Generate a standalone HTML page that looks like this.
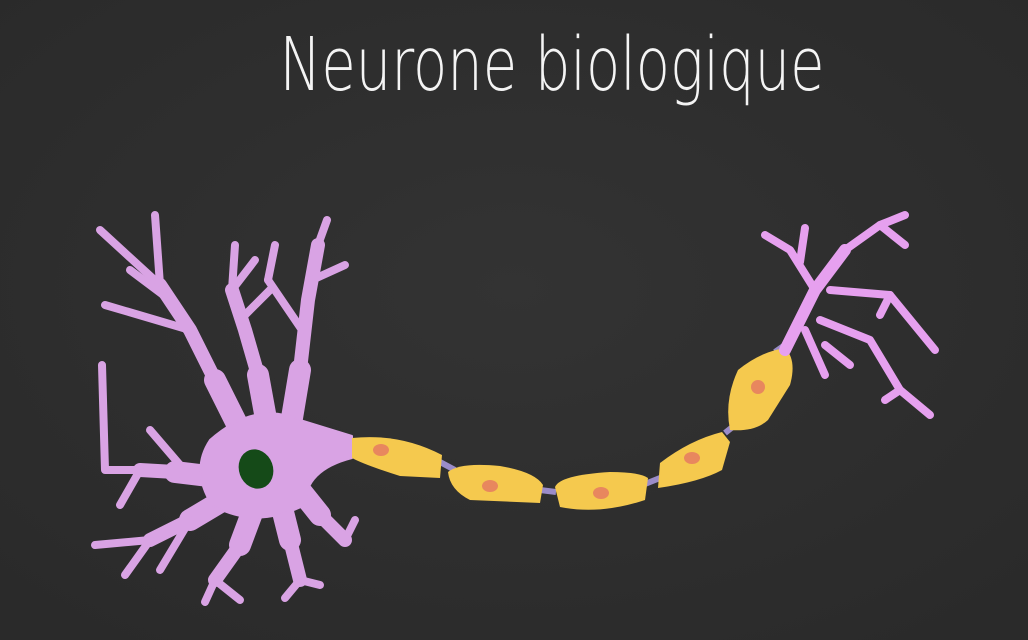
<!DOCTYPE html>
<html><head><meta charset="utf-8"><style>
html,body{margin:0;padding:0;background:#2f2f2f;}
svg{display:block}
</style></head><body>
<svg width="1028" height="640" viewBox="0 0 1028 640">
<defs><radialGradient id="bg" cx="50%" cy="45%" r="70%"><stop offset="0" stop-color="#333"/><stop offset="1" stop-color="#2a2a2a"/></radialGradient></defs>
<rect width="1028" height="640" fill="url(#bg)"/>
<text x="552" y="90" text-anchor="middle" font-family="'DejaVu Sans','Liberation Sans',sans-serif" font-size="74" fill="#f4f4f4" font-weight="200" textLength="545" lengthAdjust="spacingAndGlyphs">Neurone biologique</text>

<g stroke="#d9a3e4" fill="none" stroke-linecap="round" stroke-linejoin="round">
 <g stroke-width="22">
  <path d="M245 440 L215 380"/>
  <path d="M268 430 L258 375"/>
  <path d="M290 430 L300 370"/>
  <path d="M225 478 L175 472"/>
  <path d="M232 495 L190 520"/>
  <path d="M255 505 L240 545"/>
  <path d="M280 500 L290 540"/>
  <path d="M300 490 L320 515"/>
 </g>
 <g stroke-width="14">
  <path d="M215 380 L190 330 L160 285"/>
  <path d="M258 375 L245 330 L232 290"/>
  <path d="M300 370 L308 300 L318 245"/>
  <path d="M175 472 L140 470"/>
  <path d="M190 520 L150 540"/>
  <path d="M240 545 L215 580"/>
  <path d="M290 540 L300 580"/>
  <path d="M320 515 L345 540"/>
 </g>
 <g stroke-width="8">
  <path d="M160 285 L100 230"/><path d="M160 285 L155 215"/><path d="M190 330 L105 305"/><path d="M170 300 L130 270"/>
  <path d="M232 290 L235 245"/><path d="M232 290 L255 260"/><path d="M240 320 L270 290"/>
  <path d="M318 245 L327 220"/><path d="M312 280 L345 265"/><path d="M302 330 L268 280"/><path d="M268 280 L275 245"/>
  <path d="M140 470 L105 470 L102 365"/><path d="M140 470 L120 505"/><path d="M180 465 L150 430"/>
  <path d="M150 540 L95 545"/><path d="M150 540 L125 575"/><path d="M190 520 L160 570"/>
  <path d="M215 580 L205 602"/><path d="M215 580 L240 600"/>
  <path d="M300 580 L285 598"/><path d="M300 580 L320 585"/>
  <path d="M345 540 L355 520"/>
 </g>
 <path d="M210 440 Q255 400 300 420 L352 436 L352 458 Q305 470 305 505 Q255 530 212 505 Q190 470 210 440Z" fill="#d9a3e4" stroke-width="2"/>
</g>
<ellipse cx="256" cy="469" rx="17" ry="20" transform="rotate(-20 256 469)" fill="#154a18"/>

<g>
 <path d="M440 462 L455 470 M540 490 L556 492 M645 484 L660 478 M725 433 L735 425 M775 352 L785 345" stroke="#9b8cc9" stroke-width="6"/>
 <g fill="#f5c94e">
  <path d="M352 438 Q400 433 442 455 L440 478 L400 476 Q365 465 352 458Z"/>
  <path d="M448 472 Q460 462 500 466 Q535 472 543 485 L540 503 L470 500 Q450 490 448 472Z"/>
  <path d="M555 487 Q560 475 610 472 Q640 472 648 478 L645 500 Q600 515 560 507Z"/>
  <path d="M660 463 Q690 440 722 432 L730 442 L722 470 Q700 482 658 488Z"/>
  <path d="M738 370 Q760 352 785 348 Q797 360 790 385 L768 420 Q755 432 730 430 Q724 400 738 370Z"/>
 </g>
 <g fill="#e8875e">
  <ellipse cx="381" cy="450" rx="8" ry="6"/><ellipse cx="490" cy="486" rx="8" ry="6"/><ellipse cx="601" cy="493" rx="8" ry="6"/><ellipse cx="692" cy="458" rx="8" ry="6"/><ellipse cx="758" cy="387" rx="7" ry="7"/>
 </g>
</g>

<g stroke="#e6a0ef" fill="none" stroke-linecap="round" stroke-linejoin="round">
 <path d="M785 350 L815 290 L845 250" stroke-width="12"/>
 <g stroke-width="8">
  <path d="M815 290 L790 250 L765 235"/><path d="M800 262 L805 228"/><path d="M845 250 L880 225 L905 215"/><path d="M880 225 L905 245"/>
  <path d="M830 290 L890 295 L935 350"/><path d="M890 295 L880 315"/>
  <path d="M820 320 L870 340 L900 390 L930 415"/><path d="M900 390 L885 400"/>
  <path d="M805 330 L825 375"/><path d="M825 345 L850 365"/>
 </g>
</g>
</svg>
</body></html>
